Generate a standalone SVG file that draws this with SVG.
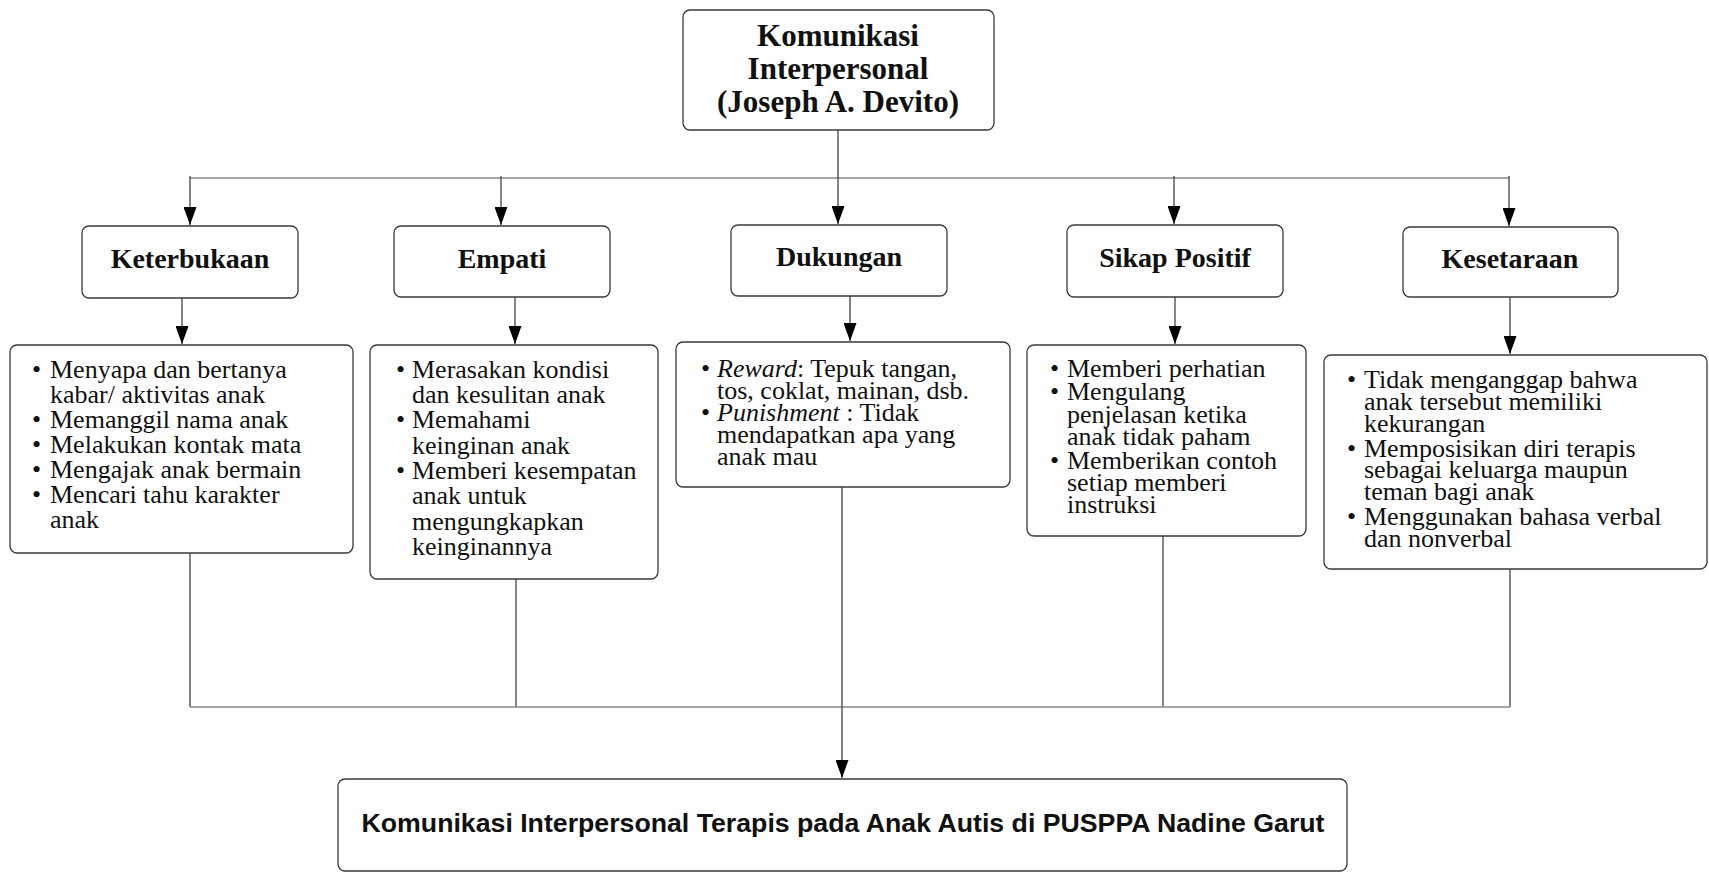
<svg xmlns="http://www.w3.org/2000/svg" width="1709" height="877" viewBox="0 0 1709 877">
<style>
.box{fill:#fff;stroke:#3a3a3a;stroke-width:1.3}
.ttl{font-family:"Liberation Serif",serif;font-weight:bold;font-size:28px;fill:#111;text-anchor:middle}
.top{font-family:"Liberation Serif",serif;font-weight:bold;font-size:31px;fill:#111;text-anchor:middle}
.bd{font-family:"Liberation Serif",serif;font-size:26px;fill:#111}
.bot{font-family:"Liberation Sans",Arial,sans-serif;font-weight:bold;font-size:26.7px;fill:#111;text-anchor:middle}
.ln{fill:none;stroke:#444;stroke-width:1.3}
.hl{fill:none;stroke:#888;stroke-width:1.5}
</style>
<defs>
<marker id="ah" viewBox="0 0 18 13" refX="18" refY="6.5" markerWidth="18" markerHeight="13" markerUnits="userSpaceOnUse" orient="auto">
<path d="M0,0 L18,6.5 L0,13 z" fill="#000"/>
</marker>
</defs>
<rect width="1709" height="877" fill="#fff"/>

<g id="connectors">
<line class="hl" x1="190" y1="178" x2="1509" y2="178"/>
<line class="ln" x1="838" y1="130" x2="838" y2="224" marker-end="url(#ah)"/>
<line class="ln" x1="190" y1="176" x2="190" y2="225" marker-end="url(#ah)"/>
<line class="ln" x1="501" y1="176" x2="501" y2="225" marker-end="url(#ah)"/>
<line class="ln" x1="1174" y1="176" x2="1174" y2="224" marker-end="url(#ah)"/>
<line class="ln" x1="1509" y1="176" x2="1509" y2="226" marker-end="url(#ah)"/>
<line class="ln" x1="182" y1="298" x2="182" y2="344" marker-end="url(#ah)"/>
<line class="ln" x1="515" y1="297" x2="515" y2="344" marker-end="url(#ah)"/>
<line class="ln" x1="850" y1="296" x2="850" y2="341" marker-end="url(#ah)"/>
<line class="ln" x1="1175" y1="297" x2="1175" y2="344" marker-end="url(#ah)"/>
<line class="ln" x1="1510" y1="297" x2="1510" y2="354" marker-end="url(#ah)"/>
<line class="ln" x1="190" y1="553" x2="190" y2="707"/>
<line class="ln" x1="516" y1="579" x2="516" y2="707"/>
<line class="ln" x1="1163" y1="536" x2="1163" y2="707"/>
<line class="ln" x1="1510" y1="569" x2="1510" y2="707"/>
<line class="hl" x1="190" y1="707" x2="1510" y2="707"/>
<line class="ln" x1="842" y1="487" x2="842" y2="778" marker-end="url(#ah)"/>
</g>

<g id="root">
<rect class="box" x="683" y="10" width="311" height="120" rx="7"/>
<text class="top" x="838" y="46">Komunikasi</text>
<text class="top" x="838" y="79">Interpersonal</text>
<text class="top" x="838" y="112">(Joseph A. Devito)</text>
</g>

<g id="keterbukaan">
<rect class="box" x="82" y="226" width="216" height="72" rx="7"/>
<text class="ttl" x="190" y="268">Keterbukaan</text>
</g>
<g id="empati">
<rect class="box" x="394" y="226" width="216" height="71" rx="7"/>
<text class="ttl" x="502" y="268">Empati</text>
</g>
<g id="dukungan">
<rect class="box" x="731" y="225" width="216" height="71" rx="7"/>
<text class="ttl" x="839" y="266">Dukungan</text>
</g>
<g id="sikap-positif">
<rect class="box" x="1067" y="225" width="216" height="72" rx="7"/>
<text class="ttl" x="1175" y="267">Sikap Positif</text>
</g>
<g id="kesetaraan">
<rect class="box" x="1403" y="227" width="215" height="70" rx="7"/>
<text class="ttl" x="1510" y="268">Kesetaraan</text>
</g>

<g id="detail-keterbukaan">
<rect class="box" x="10" y="345" width="343" height="208" rx="7"/>
<text class="bd">
<tspan x="32" y="378">•</tspan><tspan x="50" y="378">Menyapa dan bertanya</tspan>
<tspan x="50" y="403">kabar/ aktivitas anak</tspan>
<tspan x="32" y="428">•</tspan><tspan x="50" y="428">Memanggil nama anak</tspan>
<tspan x="32" y="453">•</tspan><tspan x="50" y="453">Melakukan kontak mata</tspan>
<tspan x="32" y="478">•</tspan><tspan x="50" y="478">Mengajak anak bermain</tspan>
<tspan x="32" y="503">•</tspan><tspan x="50" y="503">Mencari tahu karakter</tspan>
<tspan x="50" y="528">anak</tspan>
</text>
</g>

<g id="detail-empati">
<rect class="box" x="370" y="345" width="288" height="234" rx="7"/>
<text class="bd">
<tspan x="396" y="378">•</tspan><tspan x="412" y="378">Merasakan kondisi</tspan>
<tspan x="412" y="403">dan kesulitan anak</tspan>
<tspan x="396" y="428">•</tspan><tspan x="412" y="428">Memahami</tspan>
<tspan x="412" y="454">keinginan anak</tspan>
<tspan x="396" y="479">•</tspan><tspan x="412" y="479">Memberi kesempatan</tspan>
<tspan x="412" y="504">anak untuk</tspan>
<tspan x="412" y="530">mengungkapkan</tspan>
<tspan x="412" y="555">keinginannya</tspan>
</text>
</g>

<g id="detail-dukungan">
<rect class="box" x="676" y="342" width="334" height="145" rx="7"/>
<text class="bd">
<tspan x="701" y="377">•</tspan><tspan x="717" y="377" font-style="italic">Reward</tspan><tspan>: Tepuk tangan,</tspan>
<tspan x="717" y="399">tos, coklat, mainan, dsb.</tspan>
<tspan x="701" y="421">•</tspan><tspan x="717" y="421" font-style="italic">Punishment</tspan><tspan> : Tidak</tspan>
<tspan x="717" y="443">mendapatkan apa yang</tspan>
<tspan x="717" y="465">anak mau</tspan>
</text>
</g>

<g id="detail-sikap-positif">
<rect class="box" x="1027" y="345" width="279" height="191" rx="7"/>
<text class="bd">
<tspan x="1050" y="377">•</tspan><tspan x="1067" y="377">Memberi perhatian</tspan>
<tspan x="1050" y="400">•</tspan><tspan x="1067" y="400">Mengulang</tspan>
<tspan x="1067" y="423">penjelasan ketika</tspan>
<tspan x="1067" y="445">anak tidak paham</tspan>
<tspan x="1050" y="469">•</tspan><tspan x="1067" y="469">Memberikan contoh</tspan>
<tspan x="1067" y="491">setiap memberi</tspan>
<tspan x="1067" y="513">instruksi</tspan>
</text>
</g>

<g id="detail-kesetaraan">
<rect class="box" x="1324" y="355" width="383" height="214" rx="7"/>
<text class="bd">
<tspan x="1347" y="388">•</tspan><tspan x="1364" y="388">Tidak menganggap bahwa</tspan>
<tspan x="1364" y="410">anak tersebut memiliki</tspan>
<tspan x="1364" y="432">kekurangan</tspan>
<tspan x="1347" y="457">•</tspan><tspan x="1364" y="457">Memposisikan diri terapis</tspan>
<tspan x="1364" y="478">sebagai keluarga maupun</tspan>
<tspan x="1364" y="500">teman bagi anak</tspan>
<tspan x="1347" y="525">•</tspan><tspan x="1364" y="525">Menggunakan bahasa verbal</tspan>
<tspan x="1364" y="547">dan nonverbal</tspan>
</text>
</g>

<g id="result">
<rect class="box" x="338" y="779" width="1009" height="92" rx="7"/>
<text class="bot" x="843" y="832">Komunikasi Interpersonal Terapis pada Anak Autis di PUSPPA Nadine Garut</text>
</g>
</svg>
